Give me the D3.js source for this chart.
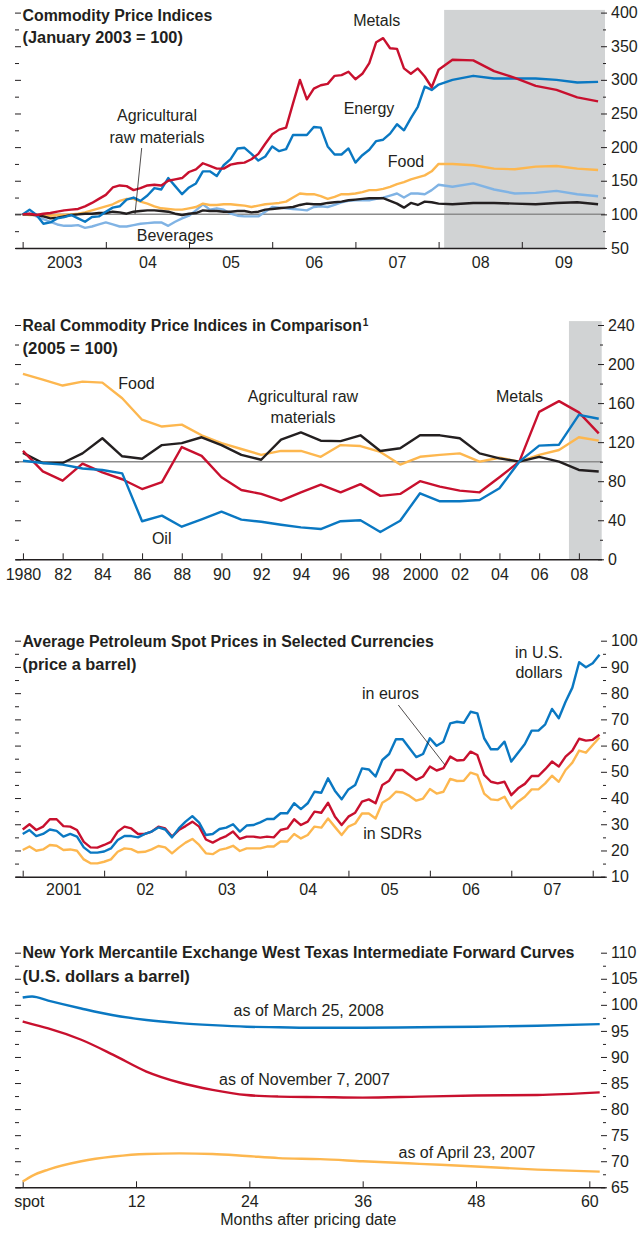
<!DOCTYPE html>
<html><head><meta charset="utf-8">
<script src="https://d3js.org/d3.v7.min.js"></script>
<style>
html,body{margin:0;padding:0;background:#fff;}
svg text{font-family:"Liberation Sans",Arial,Helvetica,sans-serif;fill:#231f20;}
</style></head><body>
<svg id="chart" width="640" height="1233"></svg>
<script>
// ================= DATA =================
// Panel 1: Commodity Price Indices (January 2003 = 100); month index 0 = Jan 2003
const p1Months = [0,1,2,3,4,5,6,7,8,9,10,11,12,13,14,15,16,17,18,19,20,21,22,23,24,25,26,27,28,29,30,31,32,33,34,35,36,37,38,39,40,41,42,43,44,45,46,47,48,49,50,51,52,53,54,55,56,57,58,59,60,62,65,68,71,74,77,80,83];
const p1Metals = [100,101,99,101,102,104,106,107,108,112,117,123,129,140,143,142,136,139,143,144,143,150,152,154,163,167,176,172,168,168,174,176,177,182,190,205,219,226,229,265,300,271,287,292,294,306,307,312,301,309,325,356,362,347,346,317,309,317,305,289,315,330,329,313,303,291,285,274,268];
const p1Energy = [100,107,99,86,88,94,96,99,94,89,96,97,104,110,112,122,125,120,128,139,137,154,142,130,140,146,164,164,157,173,182,198,199,190,180,186,201,194,197,218,218,218,230,229,201,189,189,198,177,188,196,209,211,220,234,225,243,260,290,285,293,300,306,302,302,302,300,296,297];
const p1Food = [100,99,99,98,98,99,99,100,101,103,106,109,112,115,120,123,123,119,116,112,109,108,107,107,109,111,116,114,114,115,115,114,113,111,113,115,116,117,119,125,131,130,130,127,123,126,130,130,131,133,136,136,138,141,145,148,152,155,158,164,175,175,173,168,167,171,172,168,166];
const p1Beverages = [100,101,97,93,89,85,83,83,84,80,82,85,88,85,82,82,84,86,87,88,88,83,89,94,98,106,115,107,109,107,101,98,97,97,97,104,111,110,109,108,107,106,111,112,111,114,118,120,121,121,121,123,125,128,131,125,131,131,130,136,144,141,146,137,131,132,135,130,127];
const p1AgriRaw = [100,100,99,97,94,95,97,99,100,101,101,102,102,104,103,101,104,105,106,106,105,104,101,99,101,102,106,105,105,104,104,105,105,103,104,107,108,109,110,111,114,116,115,115,117,118,119,121,122,123,124,124,124,120,116,110,117,114,119,118,116,115,117,117,116,115,117,118,115];
const p1YearTicks = [0,12,24,36,48,60,72];
const p1YearLabelPos = [6,18,30,42,54,66,78];
const p1YearLabels = ["2003","04","05","06","07","08","09"];
const p1Shade = [60.8,84];
const p1Major = [50,100,150,200,250,300,350,400];
const p1Minor = [75,125,175,225,275,325,375];

// Panel 2: Real Commodity Price Indices (2005 = 100)
const p2Years = [1980,1981,1982,1983,1984,1985,1986,1987,1988,1989,1990,1991,1992,1993,1994,1995,1996,1997,1998,1999,2000,2001,2002,2003,2004,2005,2006,2007,2008,2009];
const p2Food = [190,184,178,182,181,165,143,136,138,127,119,113,107,111,111,105,117,116,110,97,105,107,108.5,100,104,100,107,112,125,121.5];
const p2AgriRaw = [109,98.6,98.6,108.5,124,105.5,103,117,119,125,117,107,102,122.5,130,121.5,121,127,111,113.7,127,127,124,108.5,103.4,100,105,100,91.5,90];
const p2Metals = [111,90,80.5,98,89,82,72,79,115,106,84,71,67,60,68.6,76.4,68.6,77,65,67,80,74.4,70.3,68.6,84,100,151,162,150.5,129];
const p2Oil = [101,98.6,97,93,91.5,88,39,44.7,33.4,41,48.8,40.6,38.5,35.4,32.7,31,39,40,28,39.5,67.6,59.4,59.4,60.7,72.7,100,116.4,117.4,148,144];
const p2TickYears = [1980,1982,1984,1986,1988,1990,1992,1994,1996,1998,2000,2002,2004,2006,2008];
const p2TickLabels = ["1980","82","84","86","88","90","92","94","96","98","2000","02","04","06","08"];
const p2Shade = [2007.5,2009.15];
const p2Major = [0,40,80,120,160,200,240];
const p2Minor = [20,60,100,140,180,220];

// Panel 3: Average Petroleum Spot Prices (price a barrel); month 0 = Jan 2001
const p3Months = [0,1,2,3,4,5,6,7,8,9,10,11,12,13,14,15,16,17,18,19,20,21,22,23,24,25,26,27,28,29,30,31,32,33,34,35,36,37,38,39,40,41,42,43,44,45,46,47,48,49,50,51,52,53,54,55,56,57,58,59,60,61,62,63,64,65,66,67,68,69,70,71,72,73,74,75,76,77,78,79,80,81,82,83,84,85];
const p3USD = [26.3,27.8,25.5,26.3,28,27.5,25.3,26.3,25.3,21.2,19.2,19.2,19.6,20.8,24,25.5,25.5,25,26.3,27.2,28.8,28,25,28.4,31,33.1,30.6,25.9,26.3,28.2,28.7,30,27.2,29.5,29.7,30.7,32,32,34.2,34.2,38,35.8,38,42.4,42,47.5,42.8,39.5,43.3,45,51.3,50.9,48.2,54.5,56.8,62.4,62.4,59,55.6,56.8,62.8,59.9,61.5,68.5,69.1,68.7,72.9,72.3,62.8,58.6,58.6,61.5,53.9,57.3,60.6,65.7,65.7,68.1,74,70.4,76.7,82.1,91.8,89.9,91.4,94.6];
const p3EUR = [28,30,27.8,29.1,31.9,31.9,29.3,29.1,27.8,23.3,21.2,21.1,22.1,23.3,27.2,29.1,28.4,26.3,26.3,27.2,29.1,28.4,25.3,27.8,29.3,31,29.1,24.2,23,24.4,25.5,27.2,24.4,25.3,25.3,24.9,25.3,25,27.8,28.4,31.9,29.7,31,34.8,34.4,38.2,33,29.7,32.9,34.4,38.6,39.5,38,45,46.6,50.7,50.7,48.8,46.9,48.2,52,50.5,51.4,55.8,54.3,54.5,57.7,56.4,48.8,46.2,45.6,46.2,41.1,43.7,45.4,48.4,48.4,51,53.9,52,55.8,58.1,62.6,61.9,62.2,64.1];
const p3SDR = [20.2,21.5,19.9,20.4,22.1,21.8,20.2,20.4,19.9,16.6,15.1,15.1,15.7,16.6,19.5,20.8,20.5,19.3,19.5,20.4,21.7,21.2,18.9,21.1,23,24.4,22.1,18.9,18.6,20.2,20.8,21.8,19.8,20.8,20.8,20.8,21.5,21.5,23.4,23.4,26.3,24.6,25.9,29.1,28.7,32.2,29,25.9,29.1,30.3,34.1,34.1,32.2,38.2,39.8,42.4,42.1,40.8,39,39.8,43.4,41.7,42.4,47.3,46.5,46.6,49.7,48.8,41.7,39.5,39.2,40.5,36,38.6,40.5,43.3,43.3,45.6,48.5,46.2,50.7,53.5,58.1,57.3,60.2,63.1];
const p3YearTicks = [0,12,24,36,48,60,72,84];
const p3YearLabelPos = [6,18,30,42,54,66,78];
const p3YearLabels = ["2001","02","03","04","05","06","07"];
const p3Major = [10,20,30,40,50,60,70,80,90,100];
const p3Minor = [15,25,35,45,55,65,75,85,95];

// Panel 4: NYMEX WTI forward curves (U.S. dollars a barrel)
const p4Months = [0,1,2.7,6.2,9.6,13.1,16.6,20.1,23.7,27.1,31.5,36,42,48,54.5,61.1];
const p4Mar2008 = [101.4,101.6,100.8,99.3,98,97.1,96.5,96.1,95.8,95.7,95.6,95.6,95.7,95.8,96,96.3];
const p4Nov2007 = [96.8,96.3,95.5,93.3,90.4,87.2,85.1,83.7,82.7,82.4,82.3,82.2,82.4,82.6,82.7,83.2];
const p4Apr2007 = [66.1,67.2,68.4,70,70.9,71.4,71.5,71.4,71,70.6,70.4,70,69.5,69,68.4,68];
const p4Ticks = [0,12,24,36,48,60];
const p4TickLabels = ["spot","12","24","36","48","60"];
const p4Major = [65,70,75,80,85,90,95,100,105,110];
const p4Minor = [67.5,72.5,77.5,82.5,87.5,92.5,97.5,102.5,107.5];

// ================= DRAW =================
const svg = d3.select("#chart");
const C = {red:"#c8102e", blue:"#0a78c2", orange:"#fdb74f", lblue:"#80b3e4",
           black:"#231f20", shade:"#d1d3d4", ref:"#8c8c8c"};
const LW = 2.4;

function yTicks(y, majors, minors, xl, xr) {
  const mk = (tx, vals, size, pad, fmt) => {
    const g = svg.append("g").attr("transform", `translate(${tx},0)`)
      .call(d3.axisRight(y).tickValues(vals).tickSize(size).tickPadding(pad).tickFormat(fmt));
    g.select(".domain").remove();
    g.attr("font-size", 16).attr("font-family", null).attr("color", C.black);
    g.selectAll(".tick line").attr("stroke-width", 1);
    return g;
  };
  mk(xl, majors, 6, 0, () => "");
  mk(xl, minors, 4, 0, () => "");
  mk(xr - 4, majors, 6, 4, d3.format("d"));
  mk(xr - 2, minors, 3, 0, () => "");
}

function xAxis(x, yPos, tickVals, labelVals, labels, pad) {
  const gt = svg.append("g").attr("transform", `translate(0,${yPos})`)
    .call(d3.axisBottom(x).tickValues(tickVals).tickSize(-6).tickSizeOuter(0).tickFormat(() => ""));
  gt.attr("color", C.black);
  gt.select(".domain").attr("stroke-width", 1.6);
  const gl = svg.append("g").attr("transform", `translate(0,${yPos})`)
    .call(d3.axisBottom(x).tickValues(labelVals).tickSize(0).tickPadding(pad)
      .tickFormat((d, i) => labels[i]));
  gl.select(".domain").remove();
  gl.attr("font-size", 16).attr("font-family", null).attr("color", C.black);
  return gl;
}

// Bold condensed-looking titles: natural text horizontally scaled to the reference width
function title(lines, x, baselines, widths, sup) {
  lines.forEach((t, i) => {
    const tx = svg.append("text").attr("x", 0).attr("y", 0)
      .attr("font-size", 17).attr("font-weight", "bold");
    tx.append("tspan").text(t);
    if (sup && i === 0) {
      tx.append("tspan").attr("font-size", 11).attr("dx", 1).attr("dy", -5).text(sup);
    }
    const w = tx.node().getComputedTextLength();
    const sx = widths[i] / w;
    tx.attr("transform", `translate(${x},${baselines[i]}) scale(${sx},1)`);
  });
}

function label(t, x, y, anchor = "middle") {
  svg.append("text").attr("x", x).attr("y", y).attr("text-anchor", anchor)
    .attr("font-size", 16).text(t);
}

function drawLine(xs, vals, x, y, color, curve) {
  const line = d3.line().x((d, i) => x(xs[i])).y(d => y(d));
  if (curve) line.curve(curve);
  svg.append("path").datum(vals).attr("d", line).attr("fill", "none")
    .attr("stroke", color).attr("stroke-width", LW)
    .attr("stroke-linejoin", "round").attr("stroke-linecap", "butt");
}

// ---------- Panel 1 ----------
{
  const x = d3.scaleLinear().domain([-1.1, 84]).range([15, 605]);
  const y = d3.scaleLinear().domain([50, 400]).range([248, 12.6]);
  svg.append("rect").attr("x", x(p1Shade[0])).attr("y", y(404))
    .attr("width", x(p1Shade[1]) - x(p1Shade[0])).attr("height", y(50) - y(404))
    .attr("fill", C.shade);
  svg.append("line").attr("x1", x(-1.1)).attr("x2", x(84)).attr("y1", y(100)).attr("y2", y(100))
    .attr("stroke", C.ref).attr("stroke-width", 1.5);
  yTicks(y, p1Major, p1Minor, 15, 605);
  xAxis(x, 248, p1YearTicks, p1YearLabelPos, p1YearLabels, 8.5);
  drawLine(p1Months, p1Beverages, x, y, C.lblue);
  drawLine(p1Months, p1Food, x, y, C.orange);
  drawLine(p1Months, p1AgriRaw, x, y, C.black);
  drawLine(p1Months, p1Energy, x, y, C.blue);
  drawLine(p1Months, p1Metals, x, y, C.red);
  title(["Commodity Price Indices", "(January 2003 = 100)"], 22.5, [20.5, 43], [190, 160.5]);
  label("Metals", 376.7, 26);
  label("Energy", 369, 114);
  label("Food", 406, 167);
  label("Agricultural", 157, 121);
  label("raw materials", 157, 143);
  label("Beverages", 175, 241);
  svg.append("line").attr("x1", 141.7).attr("y1", 148).attr("x2", 135).attr("y2", 214)
    .attr("stroke", C.black).attr("stroke-width", 0.8);
}

// ---------- Panel 2 ----------
{
  const x = d3.scaleLinear().domain([1979.6, 2009.15]).range([15, 601.7]);
  const y = d3.scaleLinear().domain([0, 240]).range([559.3, 325]);
  svg.append("rect").attr("x", x(p2Shade[0])).attr("y", y(244))
    .attr("width", x(p2Shade[1]) - x(p2Shade[0])).attr("height", y(0) - y(244))
    .attr("fill", C.shade);
  svg.append("line").attr("x1", x(1979.6)).attr("x2", x(2009.15)).attr("y1", y(100)).attr("y2", y(100))
    .attr("stroke", C.ref).attr("stroke-width", 1.5);
  yTicks(y, p2Major, p2Minor, 15, 602);
  xAxis(x, 559.3, p2TickYears, p2TickYears, p2TickLabels, 9);
  drawLine(p2Years, p2Food, x, y, C.orange);
  drawLine(p2Years, p2AgriRaw, x, y, C.black);
  drawLine(p2Years, p2Metals, x, y, C.red);
  drawLine(p2Years, p2Oil, x, y, C.blue);
  title(["Real Commodity Price Indices in Comparison", "(2005 = 100)"], 22.5, [330.5, 354], [345, 95.5], "1");
  label("Food", 136.5, 389);
  label("Agricultural raw", 303, 402);
  label("materials", 303, 423);
  label("Metals", 519.5, 402);
  label("Oil", 161.7, 544);
}

// ---------- Panel 3 ----------
{
  const x = d3.scaleLinear().domain([-1.135, 85.81]).range([15, 605]);
  const y = d3.scaleLinear().domain([10, 100]).range([876.7, 640.7]);
  yTicks(y, p3Major, p3Minor, 15, 605);
  xAxis(x, 876.7, p3YearTicks, p3YearLabelPos, p3YearLabels, 7);
  drawLine(p3Months, p3SDR, x, y, C.orange);
  drawLine(p3Months, p3EUR, x, y, C.red);
  drawLine(p3Months, p3USD, x, y, C.blue);
  title(["Average Petroleum Spot Prices in Selected Currencies", "(price a barrel)"], 22.5, [646.5, 670], [411.5, 114]);
  label("in U.S.", 539, 658);
  label("dollars", 539, 678);
  label("in euros", 390.5, 699);
  label("in SDRs", 392.5, 839);
  svg.append("line").attr("x1", 398.3).attr("y1", 705).attr("x2", 445).attr("y2", 765)
    .attr("stroke", C.black).attr("stroke-width", 0.8);
}

// ---------- Panel 4 ----------
{
  const x = d3.scaleLinear().domain([-0.815, 61.66]).range([15, 605]);
  const y = d3.scaleLinear().domain([65, 110]).range([1187.3, 952.7]);
  yTicks(y, p4Major, p4Minor, 15, 605);
  const gl = xAxis(x, 1187.3, p4Ticks, p4Ticks, p4TickLabels, 8);
  gl.selectAll(".tick text").filter(d => d === 0).attr("text-anchor", "start").attr("dx", -9);
  drawLine(p4Months, p4Apr2007, x, y, C.orange, d3.curveMonotoneX);
  drawLine(p4Months, p4Nov2007, x, y, C.red, d3.curveMonotoneX);
  drawLine(p4Months, p4Mar2008, x, y, C.blue, d3.curveMonotoneX);
  title(["New York Mercantile Exchange West Texas Intermediate Forward Curves", "(U.S. dollars a barrel)"], 22.5, [958, 981.5], [552.5, 167.5]);
  label("as of March 25, 2008", 308.7, 1016);
  label("as of November 7, 2007", 304.5, 1084.5);
  label("as of April 23, 2007", 467, 1157.5);
  label("Months after pricing date", 308.3, 1225);
}
</script></body></html>
